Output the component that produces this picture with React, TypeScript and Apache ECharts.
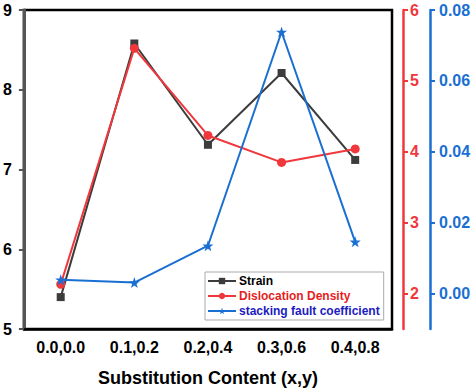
import React, { useEffect, useRef } from "react";
import * as echarts from "echarts";

const categories = ["0.0,0.0", "0.1,0.2", "0.2,0.4", "0.3,0.6", "0.4,0.8"];
const strain = [5.4, 8.58, 7.31, 8.21, 7.12];
const dislocation = [2.13, 5.46, 4.23, 3.85, 4.04];
const stacking = [0.0039, 0.0031, 0.0135, 0.0738, 0.0146];
const leftTicks = [5, 6, 7, 8, 9];
const redTicks = [2, 3, 4, 5, 6];
const blueTicks = [0, 0.02, 0.04, 0.06, 0.08];

const GRAY = "#3c3c3c";
const RED = "#f0383c";
const BLUE = "#1a6fd2";
const FONT = "'Liberation Sans', Arial, sans-serif";

export default function App() {
  const ref = useRef<HTMLDivElement>(null);
  useEffect(() => {
    document.body.style.margin = "0";
    const chart = echarts.init(ref.current!, null, { renderer: "svg" });
    chart.setOption({
      animation: false,
      textStyle: { fontFamily: FONT },
      grid: {
        left: 20,
        right: 82,
        top: 10,
        bottom: 62,
        show: true,
        borderColor: "#000",
        borderWidth: 2.5,
        backgroundColor: "transparent",
      },
      legend: {
        orient: "vertical",
        left: 205,
        top: 272,
        width: 181,
        backgroundColor: "#fff",
        borderColor: "#aaa",
        borderWidth: 1,
        borderRadius: 0,
        padding: [3, 4, 3, 2],
        itemGap: 3,
        itemWidth: 28,
        itemHeight: 8,
        textStyle: { fontSize: 12, fontWeight: "bold", fontFamily: FONT, padding: [0, 0, 0, -2] },
        data: [
          { name: "Strain", textStyle: { color: "#000" } },
          { name: "Dislocation Density", textStyle: { color: "#e61e1e" } },
          { name: "stacking fault coefficient", textStyle: { color: "#1c1cc0" } },
        ],
      },
      xAxis: {
        type: "category",
        data: categories,
        boundaryGap: true,
        axisLine: { onZero: false, lineStyle: { color: "#000", width: 2.5 } },
        axisTick: { alignWithLabel: true, length: 5, lineStyle: { color: "#000", width: 2 } },
        axisLabel: { color: "#000", fontSize: 16, fontWeight: "bold", margin: 10, fontFamily: FONT },
        name: "Substitution Content (x,y)",
        nameLocation: "middle",
        nameGap: 40,
        nameTextStyle: { color: "#000", fontSize: 18, fontWeight: "bold", fontFamily: FONT },
        splitLine: { show: false },
      },
      yAxis: [
        {
          type: "value",
          position: "left",
          min: 5,
          max: 9,
          interval: 1,
          axisLine: { show: true, lineStyle: { color: "#555", width: 3 } },
          axisTick: { show: true, length: 5, lineStyle: { color: "#555", width: 2 } },
          axisLabel: {
            color: "#000",
            fontSize: 16,
            fontWeight: "bold",
            margin: 12,
            fontFamily: FONT,
            customValues: leftTicks,
          },
          splitLine: { show: false },
        },
        {
          type: "value",
          position: "right",
          offset: 11,
          min: 1.5,
          max: 6,
          axisLine: { show: true, lineStyle: { color: RED, width: 2.5 } },
          axisTick: { show: true, length: 5, customValues: redTicks, lineStyle: { color: RED, width: 2 } },
          axisLabel: {
            color: RED,
            fontSize: 16,
            fontWeight: "bold",
            margin: 7,
            fontFamily: FONT,
            customValues: redTicks,
          },
          splitLine: { show: false },
        },
        {
          type: "value",
          position: "right",
          offset: 38,
          min: -0.01,
          max: 0.08,
          axisLine: { show: true, lineStyle: { color: BLUE, width: 2.5 } },
          axisTick: { show: true, length: 5, customValues: blueTicks, lineStyle: { color: BLUE, width: 2 } },
          axisLabel: {
            color: BLUE,
            fontSize: 16,
            fontWeight: "bold",
            margin: 9,
            fontFamily: FONT,
            customValues: blueTicks,
            formatter: (v: number) => v.toFixed(2),
          },
          splitLine: { show: false },
        },
      ],
      series: [
        {
          name: "Strain",
          type: "line",
          yAxisIndex: 0,
          data: strain,
          symbol: "rect",
          symbolSize: 8,
          lineStyle: { color: GRAY, width: 2 },
          itemStyle: { color: GRAY },
          z: 2,
        },
        {
          name: "Dislocation Density",
          type: "line",
          yAxisIndex: 1,
          data: dislocation,
          symbol: "circle",
          symbolSize: 9,
          lineStyle: { color: RED, width: 2 },
          itemStyle: { color: RED },
          z: 3,
        },
        {
          name: "stacking fault coefficient",
          type: "line",
          yAxisIndex: 2,
          data: stacking,
          symbol:
            "path://M50,0 L61.8,35.1 L97.6,34.5 L69,56.1 L79.4,90.5 L50,70 L20.6,90.5 L31,56.1 L2.4,34.5 L38.2,35.1 Z",
          symbolSize: 11,
          lineStyle: { color: BLUE, width: 2 },
          itemStyle: { color: BLUE },
          z: 4,
        },
      ],
    });
    return () => chart.dispose();
  }, []);
  return (
    <div
      ref={ref}
      style={{ width: 474, height: 392, position: "absolute", left: 0, top: 0 }}
    />
  );
}
